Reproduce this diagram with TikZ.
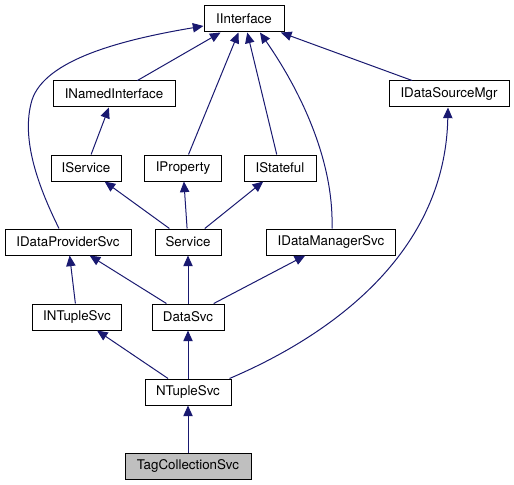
\documentclass[tikz,border=0pt]{standalone}
\usepackage{fontspec}
\setmainfont{TeX Gyre Heros}
\usetikzlibrary{arrows.meta,calc}
\definecolor{edgeblue}{RGB}{25,25,112}
\definecolor{selgray}{RGB}{191,191,191}
\tikzset{
  cls/.style={draw=black, line width=0.75pt, rectangle, inner xsep=2pt, inner ysep=0pt,
    minimum height=19.5pt, font=\fontsize{10}{12}\selectfont},
  arr/.style={draw=edgeblue, line width=0.75pt, -{Triangle[length=8pt,width=7pt]}}
}
\begin{document}
\begin{tikzpicture}[x=0.75pt,y=-0.75pt]
 \useasboundingbox (0,0) rectangle (514,485);

 \node[cls, minimum width=60pt] (iiface) at (244,19) {IInterface};

 \node[cls, minimum width=91.5pt] (inamed) at (114,94) {INamedInterface};
 \node[cls, minimum width=90pt] (idsm) at (449,94) {IDataSourceMgr};

 \node[cls, minimum width=52.5pt] (iserv) at (86,168) {IService};
 \node[cls, minimum width=57.75pt] (iprop) at (183,168) {IProperty};
 \node[cls, minimum width=54pt] (istate) at (280,168) {IStateful};

 \node[cls, minimum width=94.5pt] (idps) at (68,242) {IDataProviderSvc};
 \node[cls, minimum width=49.5pt] (serv) at (188,242) {Service};
 \node[cls, minimum width=96.75pt] (idms) at (331,242) {IDataManagerSvc};

 \node[cls, minimum width=66.75pt] (intup) at (77,317) {INTupleSvc};
 \node[cls, minimum width=54pt] (dsvc) at (188,317) {DataSvc};

 \node[cls, minimum width=64.5pt] (ntup) at (188,392) {NTupleSvc};

 \node[cls, minimum width=94.5pt, fill=selgray] (tagc) at (188,466) {TagCollectionSvc};

 \draw [arr] (inamed) -- (iiface);
 \draw [arr] (idsm) -- (iiface);
 \draw [arr] (iprop) -- (iiface);
 \draw [arr] (istate) -- (iiface);
 \draw [arr] ($(idps.north)+(-9,0)$) .. controls (40,190) and (20,140) .. (32,100)
   .. controls (45,60) and (120,40) .. ($(iiface.west)+(0,7)$);
 \draw [arr] ($(idms.north)+(1,0)$) .. controls (334,160) and (300,90) .. ($(iiface.south)+(16,0)$);

 \draw [arr] (iserv) -- (inamed);
 \draw [arr] (serv) -- (iserv);
 \draw [arr] (serv) -- (iprop);
 \draw [arr] (serv) -- (istate);

 \draw [arr] (dsvc) -- (idps);
 \draw [arr] (dsvc) -- (serv);
 \draw [arr] (dsvc) -- (idms);
 \draw [arr] (intup) -- (idps);

 \draw [arr] (ntup) -- (intup);
 \draw [arr] (ntup) -- (dsvc);
 \draw [arr] ($(ntup.north east)+(-2,0)$) .. controls (320,340) and (445,260) .. ($(idsm.south)+(-1,0)$);

 \draw [arr] (tagc) -- (ntup);
\end{tikzpicture}
\end{document}
